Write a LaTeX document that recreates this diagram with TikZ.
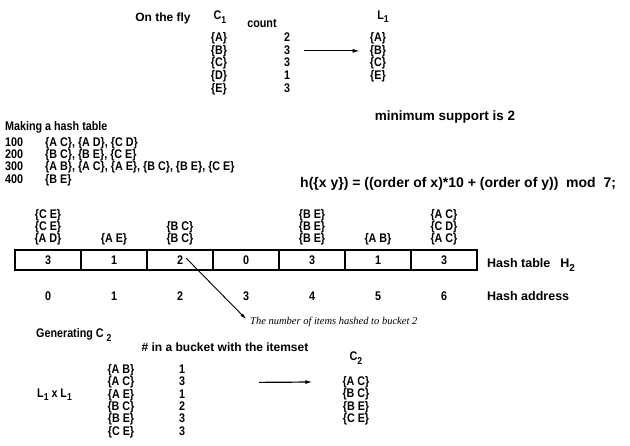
\documentclass[tikz,border=0pt]{standalone}
\usepackage{fontspec}
\setmainfont{Liberation Sans}[FakeStretch=0.86]
\newfontfamily\widefont{Liberation Sans}
\newfontfamily\notefont{Liberation Serif}
\usetikzlibrary{arrows.meta, positioning}
\newcommand{\lowsub}[1]{\raisebox{-0.5ex}{\fontsize{10}{10}\selectfont #1}}

\begin{document}
\begin{tikzpicture}[x=1pt, y=-1pt,
  txt/.style={inner sep=0pt, font=\fontsize{12.5}{12.7}\selectfont\bfseries},
  wide/.style={inner sep=0pt, font=\widefont\fontsize{#1}{14}\selectfont\bfseries},
  entry/.style={txt, text height=9pt, text depth=2.5pt},
  stack/.style={txt, align=center, font=\fontsize{12.5}{12.2}\selectfont\bfseries},
  cell/.style={draw, line width=1.3pt, minimum width=66pt, minimum height=20pt,
               inner sep=0pt, font=\fontsize{12.5}{12}\selectfont\bfseries},
  arr/.style={-{Latex[length=7pt, width=4pt]}, line width=1.2pt},
  thin/.style={-{Latex[length=6pt, width=3.5pt]}, line width=0.9pt},
  note/.style={inner sep=0pt, font=\fontsize{10.5}{12}\selectfont\notefont\itshape},
]
  \useasboundingbox (0,0) rectangle (630,446);

  % On the fly
  \node[wide=12] (fly) at (163,18) {On the fly};
  \node[txt] (c1) at (220,17) {C\lowsub{1}};
  \node[txt] (cnt) at (262,23) {count};
  \node[txt] (l1) at (383,17) {L\lowsub{1}};
  \foreach \s/\n [count=\i] in {A/2,B/3,C/3,D/1,E/3} {
    \node[entry] (c1\i) at (219, 25.5+12.7*\i) {\{\s\}};
    \node[entry] (n1\i) at (287, 25.5+12.7*\i) {\n};
  }
  \foreach \s [count=\i] in {A,B,C,E}
    \node[entry] (l1\i) at (378, 25.5+12.7*\i) {\{\s\}};
  \draw[arr] ([xshift=14pt]n12.east) -- ([xshift=-10pt]l12.west);
  \node[wide=13.5] (minsup) at (445,117) {minimum support is 2};

  % Making a hash table
  \node[txt, anchor=west] (mk) at (5,127) {Making a hash table};
  \node[entry, anchor=west] (t1) at (5,143) {100};
  \node[entry, anchor=west] (t2) at (5,155.3) {200};
  \node[entry, anchor=west] (t3) at (5,167.6) {300};
  \node[entry, anchor=west] (t4) at (5,180) {400};
  \node[entry, anchor=west] (s1) at (45,143) {\{A C\}, \{A D\}, \{C D\}};
  \node[entry, anchor=west] (s2) at (45,155.3) {\{B C\}, \{B E\}, \{C E\}};
  \node[entry, anchor=west] (s3) at (45,167.6) {\{A B\}, \{A C\}, \{A E\}, \{B C\}, \{B E\}, \{C E\}};
  \node[entry, anchor=west] (s4) at (45,180) {\{B E\}};
  \node[wide=14, anchor=west] (hf) at (300,184)
    {h(\{x y\}) = ((order of x)*10 + (order of y))\ \ mod\ \ 7;};

  % Hash table
  \foreach \v [count=\i from 0] in {3,1,2,0,3,1,3} {
    \node[cell] (h\i) at (48+66*\i, 260) {\v};
    \node[txt] (a\i) at (48+66*\i, 296) {\i};
  }
  \node[stack, anchor=south] (k0) at ([yshift=4pt]h0.north) {\{C E\}\\\{C E\}\\\{A D\}};
  \node[stack, anchor=south] (k1) at ([yshift=4pt]h1.north) {\{A E\}};
  \node[stack, anchor=south] (k2) at ([yshift=4pt]h2.north) {\{B C\}\\\{B C\}};
  \node[stack, anchor=south] (k4) at ([yshift=4pt]h4.north) {\{B E\}\\\{B E\}\\\{B E\}};
  \node[stack, anchor=south] (k5) at ([yshift=4pt]h5.north) {\{A B\}};
  \node[stack, anchor=south] (k6) at ([yshift=4pt]h6.north) {\{A C\}\\\{C D\}\\\{A C\}};
  \node[wide=12.5, anchor=west] (ht) at (487,265) {Hash table\hspace{10pt}H\lowsub{2}};
  \node[wide=12.5, anchor=west] (ha) at (487,296) {Hash address};
  \node[note, anchor=west] (nt) at (250,322) {The number of items hashed to bucket 2};
  \draw[thin] ([xshift=6pt,yshift=2pt]h2.center) -- ([xshift=-4pt,yshift=-2pt]nt.north west);

  % Generating C2
  \node[txt, anchor=west] (gen) at (36,335) {Generating C \lowsub{2}};
  \node[wide=12] (hdr) at (225,347) {\# in a bucket with the itemset};
  \node[txt] (c2) at (356,358) {C\lowsub{2}};
  \node[txt, anchor=west] (ll) at (37,395) {L\lowsub{1} x L\lowsub{1}};
  \foreach \s/\n [count=\i] in {A B/1,A C/3,A E/1,B C/2,B E/3,C E/3} {
    \node[entry] (p\i) at (121, 357.6+12.4*\i) {\{\s\}};
    \node[entry] (q\i) at (182, 357.6+12.4*\i) {\n};
  }
  \foreach \s [count=\i] in {A C,B C,B E,C E}
    \node[entry] (r\i) at (356, 369.6+12.4*\i) {\{\s\}};
  \draw[arr] ([xshift=74pt]q2.east) -- ([xshift=-30pt]r1.west);
\end{tikzpicture}
\end{document}
